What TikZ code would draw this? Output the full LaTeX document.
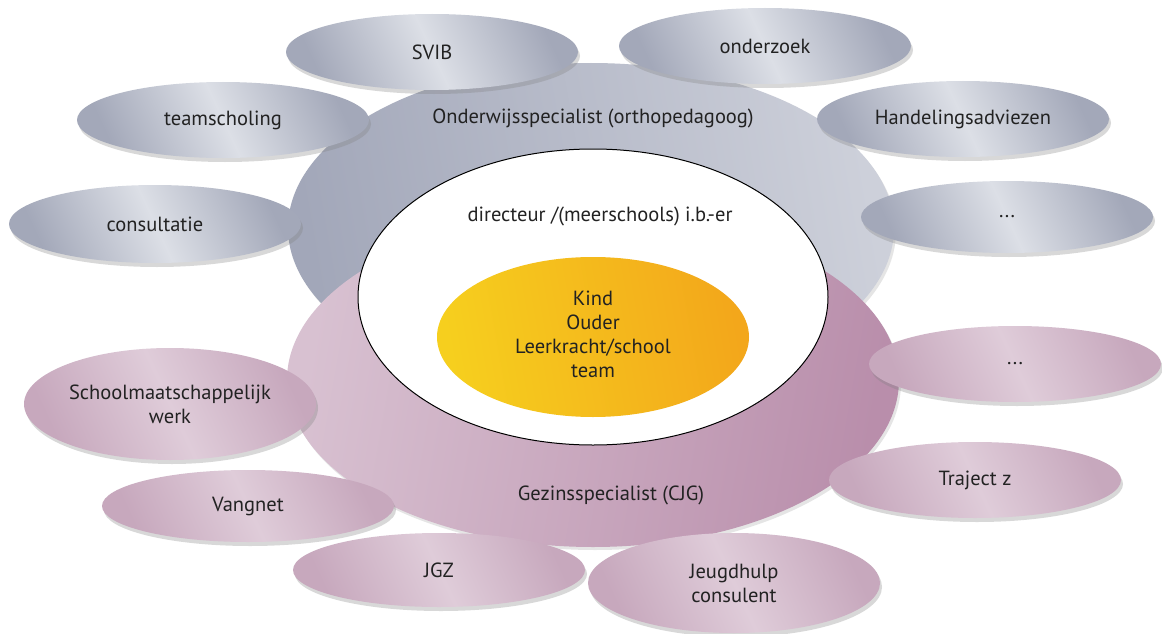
\documentclass[tikz,border=0pt]{standalone}
\usepackage{fontspec}
\setmainfont{PT Sans}
\usetikzlibrary{shapes.geometric,shadows}

\definecolor{greyEdge}{HTML}{A3A8B9}
\definecolor{greyMid}{HTML}{DCDFE6}
\definecolor{greyBigL}{HTML}{A2A7B9}
\definecolor{greyBigR}{HTML}{CDD0DA}
\definecolor{pinkEdge}{HTML}{C7A8BD}
\definecolor{pinkMid}{HTML}{DFCCD9}
\definecolor{pinkBigL}{HTML}{D8C1D1}
\definecolor{pinkBigR}{HTML}{B98EAB}
\definecolor{kernYellow}{HTML}{F6CF1E}
\definecolor{kernOrange}{HTML}{F3A71B}
\definecolor{txt}{HTML}{222222}

\begin{document}
\begin{tikzpicture}[x=1pt,y=-1pt]
    \tikzstyle{ell}=[ellipse, inner sep=0pt, align=center, text=txt,
      font=\fontsize{20.5}{24}\selectfont, minimum width=292pt, minimum height=76pt,
      drop shadow={shadow xshift=2pt, shadow yshift=-4pt, opacity=0.3}]
    \tikzstyle{greyell}=[ell, left color=greyEdge, right color=greyEdge, middle color=greyMid, shading angle=115]
    \tikzstyle{pinkell}=[ell, left color=pinkEdge, right color=pinkEdge, middle color=pinkMid, shading angle=115]
    \tikzstyle{lbl}=[align=center, text=txt, font=\fontsize{20.5}{24}\selectfont]

    \useasboundingbox (0,0) rectangle (1162,634);
    \fill[white] (0,0) rectangle (1162,634);

    % big rings
    \node[ellipse, minimum width=606pt, minimum height=330pt, left color=greyBigL, right color=greyBigR, shading angle=100,
      drop shadow={shadow xshift=2pt, shadow yshift=-3pt, opacity=0.2}] (onderwijs) at (591,228) {};
    \node[ellipse, minimum width=612pt, minimum height=334pt, left color=pinkBigL, right color=pinkBigR, shading angle=80,
      drop shadow={shadow xshift=2pt, shadow yshift=-3pt, opacity=0.2}] (gezin) at (593,380) {};
    \node[ellipse, draw=black, line width=1pt, fill=white, minimum width=470pt, minimum height=296pt] (directie) at (593,297) {};
    \node[ellipse, left color=kernYellow, right color=kernOrange, shading angle=100, minimum width=312pt, minimum height=160pt] (kern) at (593,337) {};

    \node[lbl] (onderwijsTxt) at (593,118) {Onderwijsspecialist (orthopedagoog)};
    \node[lbl] (gezinTxt) at (611,495) {Gezinsspecialist (CJG)};
    \node[lbl] (directieTxt) at (600,216) {directeur /(meerschools) i.b.-er};
    \node[lbl] (kernTxt) at (593,334) {Kind\\Ouder\\Leerkracht/school\\team};

    % grey satellites
    \node[greyell] (svib) at (432,52) {SVIB};
    \node[greyell] (onderzoek) at (765,46) {onderzoek};
    \node[greyell] (teamscholing) at (223,120) {teamscholing};
    \node[greyell] (handeling) at (963,119) {Handelingsadviezen};
    \node[greyell, minimum height=78pt] (consultatie) at (155,224) {consultatie};
    \node[greyell, minimum height=72pt] (overigG) at (1007,217) {...};

    % pink satellites
    \node[pinkell] (overigP) at (1015,364) {...};
    \node[pinkell, minimum height=112pt] (smw) at (170,404) {Schoolmaatschappelijk\\werk};
    \node[pinkell] (traject) at (975,480) {Traject z};
    \node[pinkell, minimum height=72pt] (vangnet) at (248,506) {Vangnet};
    \node[pinkell, minimum height=74pt] (jgz) at (439,570) {JGZ};
    \node[pinkell, minimum height=100pt] (jeugdhulp) at (734,583) {Jeugdhulp\\consulent};
\end{tikzpicture}
\end{document}
